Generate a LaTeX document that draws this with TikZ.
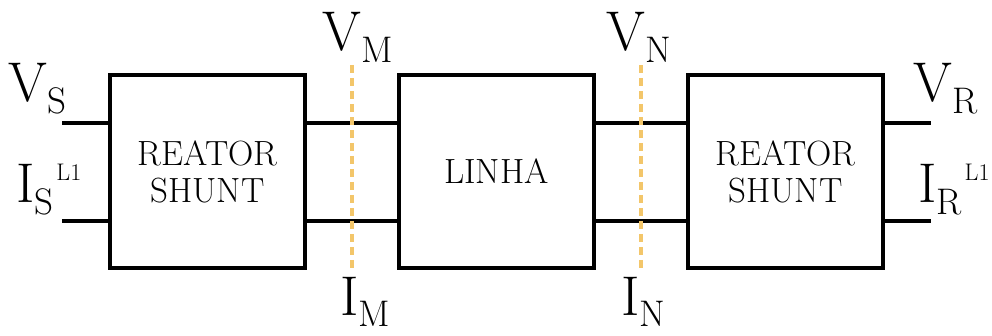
\documentclass[tikz,border=0pt]{standalone}
\definecolor{dashorange}{HTML}{F3C66A}
\newcommand{\biglbl}[2]{{\fontsize{56}{56}\selectfont #1}\raisebox{-12pt}{\fontsize{37}{37}\selectfont #2}}
\newcommand{\biglblsup}[3]{{\fontsize{56}{56}\selectfont #1}\raisebox{-12pt}{\fontsize{37}{37}\selectfont #2}\hspace{3pt}\raisebox{22pt}{\fontsize{24}{24}\selectfont #3}}
\begin{document}
\begin{tikzpicture}[x=1pt,y=-1pt,
  blk/.style={draw=black, line width=4pt, fill=white, minimum width=195pt, minimum height=193pt, inner sep=0pt, align=center, font=\fontsize{35}{37}\selectfont},
  wire/.style={draw=black, line width=4pt},
  cut/.style={draw=dashorange, line width=4pt, dash pattern=on 8pt off 5pt},
  lbl/.style={anchor=base west, inner sep=0pt}]
\useasboundingbox (0,0) rectangle (992,336);
\node[blk] (b1) at (207.5,171.5) {REATOR\\SHUNT};
\node[blk] (b2) at (496.5,171.5) {LINHA};
\node[blk] (b3) at (785.5,171.5) {REATOR\\SHUNT};
\coordinate (sa) at (62,123);
\coordinate (sb) at (62,221);
\coordinate (ra) at (931,123);
\coordinate (rb) at (931,221);
\draw[wire] (sa) -- (sa -| b1.west);
\draw[wire] (sb) -- (sb -| b1.west);
\draw[wire] (sa -| b1.east) -- (sa -| b2.west);
\draw[wire] (sb -| b1.east) -- (sb -| b2.west);
\draw[wire] (sa -| b2.east) -- (sa -| b3.west);
\draw[wire] (sb -| b2.east) -- (sb -| b3.west);
\draw[wire] (ra -| b3.east) -- (ra);
\draw[wire] (rb -| b3.east) -- (rb);
\coordinate (m1) at (352,65);
\coordinate (m2) at (352,272);
\coordinate (n1) at (641,65);
\coordinate (n2) at (641,272);
\draw[cut] (m1) -- (m2);
\draw[cut] (n1) -- (n2);
\node[lbl] (vs) at (8,102) {\biglbl{V}{S}};
\node[lbl] (is) at (16,203) {\biglblsup{I}{S}{L1}};
\node[lbl] (vm) at (322,51) {\biglbl{V}{M}};
\node[lbl] (vn) at (606,51) {\biglbl{V}{N}};
\node[lbl] (im) at (340,315) {\biglbl{I}{M}};
\node[lbl] (in) at (621,315) {\biglbl{I}{N}};
\node[lbl] (vr) at (913,102) {\biglbl{V}{R}};
\node[lbl] (ir) at (918,203) {\biglblsup{I}{R}{L1}};
\end{tikzpicture}
\end{document}
